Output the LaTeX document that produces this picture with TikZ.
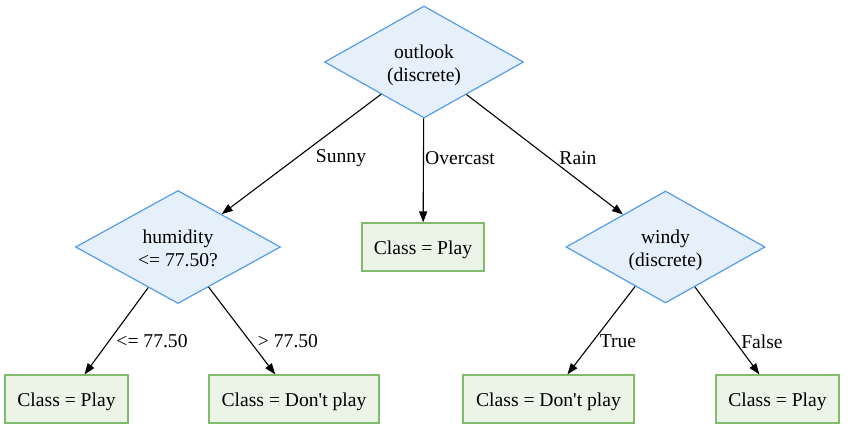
\documentclass[tikz,border=0pt]{standalone}
\usepackage{fontspec}
\setmainfont{Liberation Serif}[Ligatures=TeXOff]
\usetikzlibrary{shapes.geometric,arrows.meta}
\definecolor{dfill}{RGB}{229,240,251}
\definecolor{ddraw}{RGB}{84,156,235}
\definecolor{bfill}{RGB}{235,244,231}
\definecolor{bdraw}{RGB}{128,188,108}
\begin{document}
\begin{tikzpicture}[x=1pt,y=-1pt,
  every node/.style={font=\fontsize{19.6}{23.5}\selectfont},
  dec/.style={shape=diamond, aspect=1.78, draw=ddraw, fill=dfill, line width=1.2pt,
    minimum width=199pt, minimum height=112pt, inner sep=0pt, align=center,
    text height=43pt, text depth=4pt},
  leaf/.style={shape=rectangle, draw=bdraw, fill=bfill, line width=1.2pt,
    minimum height=48pt, inner xsep=0pt, inner ysep=0pt, align=center,
    text height=17pt, text depth=2pt},
  edge/.style={draw=black, line width=1.1pt, -{Triangle[length=11pt,width=8pt]}},
  lbl/.style={inner sep=0pt}]
\useasboundingbox (0,0) rectangle (854,436);
\node[dec] (outlook) at (424,62) {outlook\\(discrete)};
\node[dec, minimum width=205pt, minimum height=113pt] (humidity) at (178,247) {humidity\\<= 77.50?};
\node[dec] (windy) at (665.5,247) {windy\\(discrete)};
\node[leaf, minimum width=122pt] (over) at (423,247) {Class = Play};
\node[leaf, minimum width=123pt] (l1) at (66.5,399) {Class = Play};
\node[leaf, minimum width=170pt] (l2) at (294,399) {Class = Don't play};
\node[leaf, minimum width=171pt] (l3) at (548.5,399) {Class = Don't play};
\node[leaf, minimum width=123pt] (l4) at (777.5,399) {Class = Play};
\draw[edge] (outlook) -- (humidity);
\draw[edge] (outlook) -- (over);
\draw[edge] (outlook) -- (windy);
\draw[edge] (humidity) -- (l1);
\draw[edge] (humidity) -- (l2);
\draw[edge] (windy) -- (l3);
\draw[edge] (windy) -- (l4);
\node[lbl] (t1) at (341,158.5) {Sunny};
\node[lbl] (t2) at (460,158.5) {Overcast};
\node[lbl] (t3) at (578,158.5) {Rain};
\node[lbl] (t4) at (152,341.5) {<= 77.50};
\node[lbl] (t5) at (288,341.5) {> 77.50};
\node[lbl] (t6) at (618,341.5) {True};
\node[lbl] (t7) at (762,341.5) {False};
\end{tikzpicture}
\end{document}
